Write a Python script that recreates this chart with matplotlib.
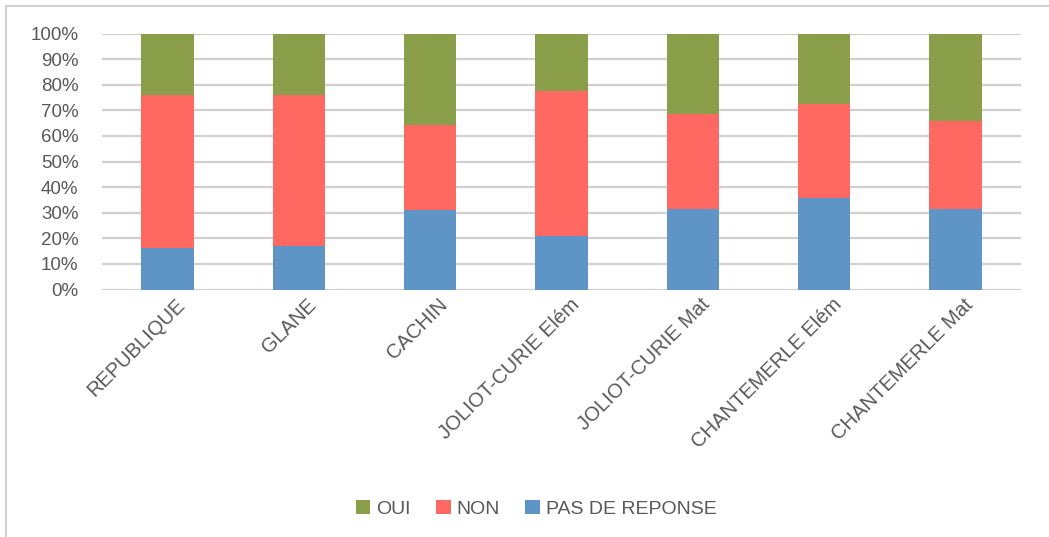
import numpy as np
import matplotlib.pyplot as plt
from matplotlib.patches import Rectangle

plt.rcParams['font.family'] = ['Liberation Sans', 'DejaVu Sans']

ecoles = ["REPUBLIQUE", "GLANE", "CACHIN", "JOLIOT-CURIE Elém",
          "JOLIOT-CURIE Mat", "CHANTEMERLE Elém", "CHANTEMERLE Mat"]
pas_de_reponse = [16.3, 17.0, 30.9, 21.0, 31.4, 35.9, 31.6]
non = [59.5, 58.8, 33.5, 56.5, 37.0, 36.4, 34.2]
oui = [24.2, 24.2, 35.6, 22.5, 31.6, 27.7, 34.2]

c_oui = "#8B9F4B"
c_non = "#FF6961"
c_pdr = "#5F95C6"
gris = "#595959"

fig = plt.figure(figsize=(10.49, 5.37), dpi=100)
ax = fig.add_axes([102 / 1049, 1 - 289.5 / 537, (1021 - 102) / 1049, 256 / 537])

x = np.arange(len(ecoles))
pdr = np.array(pas_de_reponse)
n = np.array(non)
o = np.array(oui)

b1 = ax.bar(x, pdr, width=0.4, color=c_pdr, zorder=3, label="PAS DE REPONSE")
b2 = ax.bar(x, n, width=0.4, bottom=pdr, color=c_non, zorder=3, label="NON")
b3 = ax.bar(x, o, width=0.4, bottom=pdr + n, color=c_oui, zorder=3, label="OUI")

ax.set_xlim(-0.5, len(ecoles) - 0.5)
ax.set_ylim(0, 100)
ax.set_yticks(np.arange(0, 101, 10))
ax.set_yticklabels([f"{v}%" for v in range(0, 101, 10)])
ax.yaxis.grid(True, color="#D0D0D0", linewidth=1.6, zorder=0)
for s in ax.spines.values():
    s.set_visible(False)
ax.tick_params(axis="both", length=0, labelsize=13.5, labelcolor=gris)
ax.tick_params(axis="y", pad=17)

ax.set_xticks(x + 0.06)
ax.set_xticklabels(ecoles, rotation=45, ha="right", rotation_mode="anchor", fontsize=14.5)
ax.tick_params(axis="x", pad=4)

leg = fig.legend(handles=[b3, b2, b1], loc="center", bbox_to_anchor=(0.511, 1 - 509 / 537),
                 ncol=3, frameon=False, fontsize=14, handlelength=0.75, handleheight=0.75,
                 handletextpad=0.3, columnspacing=1.3)
for t in leg.get_texts():
    t.set_color(gris)

# cadre du graphique
fig.add_artist(Rectangle((6 / 1049, -0.05), 1.1, 1 - 6 / 537 + 0.05, transform=fig.transFigure,
                         fill=False, edgecolor="#D0D0D0", linewidth=1.5))

fig.savefig("out.png", dpi=100)
